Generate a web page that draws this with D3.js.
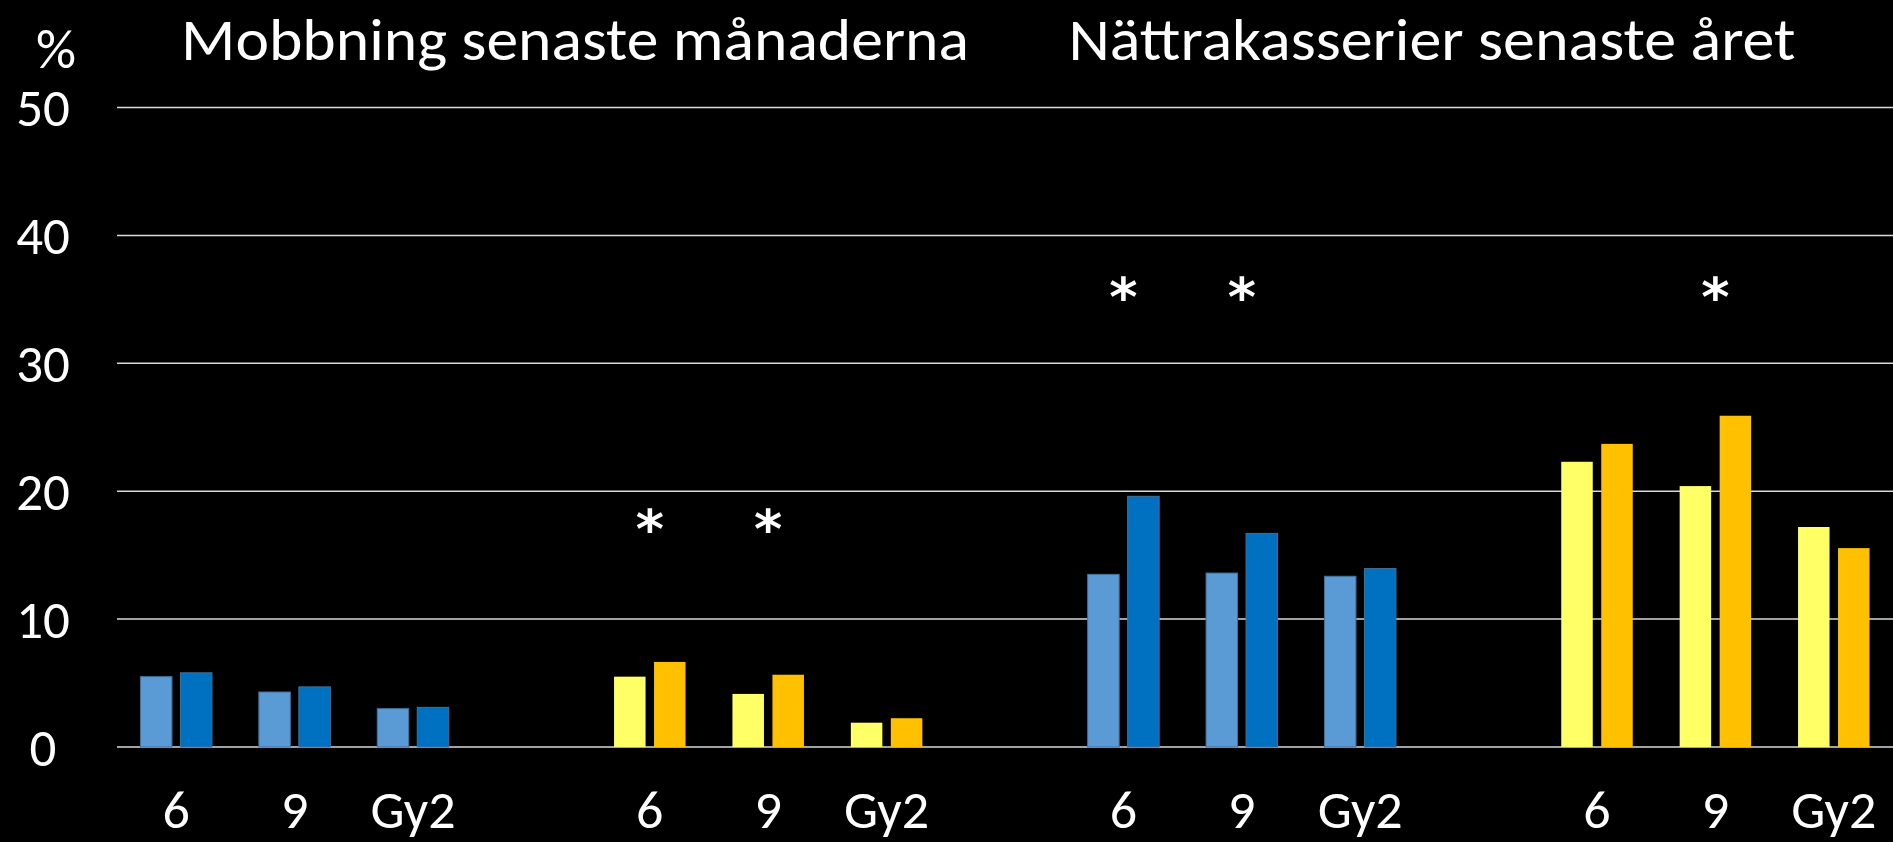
<!DOCTYPE html>
<html lang="sv">
<head>
<meta charset="utf-8">
<title>Mobbning och nättrakasserier</title>
<script src="https://cdn.jsdelivr.net/npm/d3@7"></script>
<style>
  body { margin: 0; background: #000; }
  svg text { font-family: Carlito, Lato, "Open Sans", sans-serif; fill: #fff; }
</style>
</head>
<body>
<div id="chart"></div>
<script>

// slots on the x axis: 4 groups of 3 grades, one empty slot between groups
var slots = ["m1-6", "m1-9", "m1-Gy2", "gap1", "m2-6", "m2-9", "m2-Gy2", "gap2",
             "n1-6", "n1-9", "n1-Gy2", "gap3", "n2-6", "n2-9", "n2-Gy2"];
var slotLabels = ["6", "9", "Gy2", "", "6", "9", "Gy2", "", "6", "9", "Gy2", "", "6", "9", "Gy2"];

var groups = [
  { slots: ["m1-6", "m1-9", "m1-Gy2"], light: "#5b9bd5", dark: "#0070c0", edge: "#41719c" },
  { slots: ["m2-6", "m2-9", "m2-Gy2"], light: "#ffff66", dark: "#ffc000", edge: "none" },
  { slots: ["n1-6", "n1-9", "n1-Gy2"], light: "#5b9bd5", dark: "#0070c0", edge: "#41719c" },
  { slots: ["n2-6", "n2-9", "n2-Gy2"], light: "#ffff66", dark: "#ffc000", edge: "none" }
];

// first bar (light) and second bar (dark) per group, grades 6, 9, Gy2
var lightValues = [[5.5, 4.3, 3.0], [5.5, 4.15, 1.9], [13.5, 13.6, 13.35], [22.3, 20.4, 17.2]];
var darkValues  = [[5.8, 4.7, 3.1], [6.65, 5.65, 2.25], [19.6, 16.7, 13.95], [23.7, 25.9, 15.55]];

// significance markers
var stars = [
  { slot: "m2-6", y: 17.7 }, { slot: "m2-9", y: 17.7 },
  { slot: "n1-6", y: 35.8 }, { slot: "n1-9", y: 35.8 },
  { slot: "n2-9", y: 35.8 }
];

var yTicks = [0, 10, 20, 30, 40, 50];
var titles = [
  { text: "Mobbning senaste månaderna", x: 575, len: 788 },
  { text: "Nättrakasserier senaste året", x: 1432, len: 727 }
];

var W = 1893, H = 842;
var margin = { top: 107.5, right: 0, bottom: 95, left: 117 };

var svg = d3.select("#chart").append("svg")
  .attr("width", W)
  .attr("height", H)
  .style("background", "#000");

var x = d3.scaleBand().domain(slots).range([margin.left, W - margin.right]);
var y = d3.scaleLinear().domain([0, 50]).range([H - margin.bottom, margin.top]);

// gridlines
svg.append("g")
  .selectAll("line")
  .data(yTicks)
  .enter().append("line")
  .attr("x1", margin.left)
  .attr("x2", W - margin.right)
  .attr("y1", function (d) { return y(d); })
  .attr("y2", function (d) { return y(d); })
  .attr("stroke", "#d9d9d9")
  .attr("stroke-width", 1.5);

// y tick labels
svg.append("g")
  .selectAll("text")
  .data(yTicks)
  .enter().append("text")
  .attr("x", 43)
  .attr("y", function (d) { return y(d); })
  .attr("dy", "0.35em")
  .attr("text-anchor", "middle")
  .style("font-size", "53px")
  .text(function (d) { return d; });

svg.append("text")
  .attr("x", 56)
  .attr("y", 68)
  .attr("text-anchor", "middle")
  .style("font-size", "56px")
  .text("%");

// bars
var barW = 31.5, barGap = 8.5;
groups.forEach(function (g, gi) {
  g.slots.forEach(function (s, i) {
    var cx = x(s) + x.bandwidth() / 2;
    var pair = [
      { v: lightValues[gi][i], fill: g.light, x0: cx - barGap / 2 - barW },
      { v: darkValues[gi][i], fill: g.dark, x0: cx + barGap / 2 }
    ];
    svg.selectAll(null)
      .data(pair)
      .enter().append("rect")
      .attr("x", function (d) { return d.x0; })
      .attr("y", function (d) { return y(d.v); })
      .attr("width", barW)
      .attr("height", function (d) { return y(0) - y(d.v); })
      .attr("fill", function (d) { return d.fill; })
      .attr("stroke", g.edge)
      .attr("stroke-width", 1);
  });
});

// x labels (gap slots have no label)
svg.append("g")
  .selectAll("text")
  .data(slots.filter(function (d, i) { return slotLabels[i] !== ""; }))
  .enter().append("text")
  .attr("x", function (d) { return x(d) + x.bandwidth() / 2; })
  .attr("y", 828)
  .attr("text-anchor", "middle")
  .style("font-size", "54px")
  .text(function (d) { return slotLabels[slots.indexOf(d)]; });

// asterisks
svg.append("g")
  .selectAll("text")
  .data(stars)
  .enter().append("text")
  .attr("x", function (d) { return x(d.slot) + x.bandwidth() / 2; })
  .attr("y", function (d) { return y(d.y); })
  .attr("dy", "0.5em")
  .attr("text-anchor", "middle")
  .style("font-family", "'DejaVu Sans', sans-serif")
  .style("font-size", "54px")
  .style("font-weight", "bold")
  .text("*");

// titles
svg.append("g")
  .selectAll("text")
  .data(titles)
  .enter().append("text")
  .attr("x", function (d) { return d.x; })
  .attr("y", 60)
  .attr("text-anchor", "middle")
  .attr("textLength", function (d) { return d.len; })
  .attr("lengthAdjust", "spacingAndGlyphs")
  .style("font-size", "60px")
  .text(function (d) { return d.text; });

</script>
</body>
</html>
